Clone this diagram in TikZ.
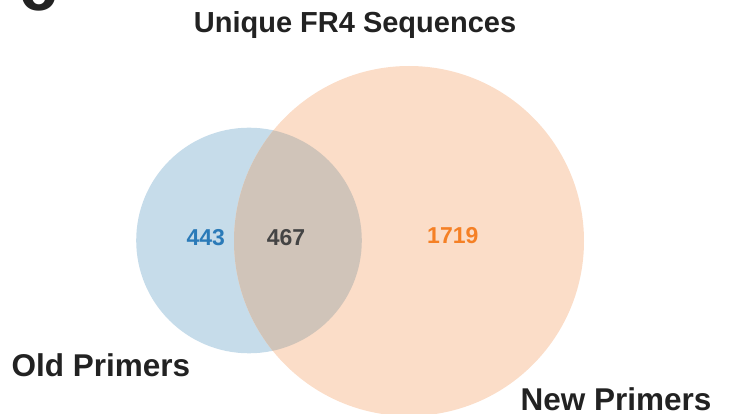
\documentclass[tikz,border=0pt]{standalone}
\usepackage{fontspec}
\setmainfont{Liberation Sans}
\definecolor{oldfill}{HTML}{C6DCEA}
\definecolor{newfill}{HTML}{FBDDC8}
\definecolor{bothfill}{HTML}{D0C4B9}
\definecolor{oldtext}{HTML}{2A7AB8}
\definecolor{newtext}{HTML}{F58025}
\definecolor{bothtext}{HTML}{444444}
\definecolor{labeltext}{HTML}{222222}
\tikzset{
  lbl/.style={inner sep=0pt, anchor=base west, text=labeltext,
    font=\bfseries\fontsize{31.5}{36}\selectfont},
  cnt/.style={inner sep=0pt, anchor=base,
    font=\bfseries\fontsize{23}{28}\selectfont}
}
\begin{document}
\begin{tikzpicture}[x=1pt,y=-1pt]
                % canvas
                \useasboundingbox (0,0) rectangle (729,414);
                \clip (0,0) rectangle (729,414);

                % the two sets
                \fill[oldfill] (249,240.5) circle [radius=112.8pt];
                \fill[newfill] (409,241) circle [radius=175pt];
                \begin{scope}
                    \clip (249,240.5) circle [radius=112.8pt];
                    \fill[bothfill] (409,241) circle [radius=175pt];
                \end{scope}

                % panel letter, cut by the top edge
                \node[inner sep=0pt, anchor=base west, text=labeltext,
                    font=\bfseries\fontsize{68}{80}\selectfont] (panel) at (19,11) {c};

                \node[inner sep=0pt, anchor=base, text=labeltext,
                    font=\bfseries\fontsize{29}{35}\selectfont] (title) at (355,33) {Unique FR4 Sequences};

                \node[cnt, text=oldtext] (nOld) at (205.7,246) {443};
                \node[cnt, text=bothtext] (nBoth) at (286,246) {467};
                \node[cnt, text=newtext] (nNew) at (452.8,243.3) {1719};

                \node[lbl] (old) at (11.5,377) {Old Primers};
                \node[lbl] (new) at (520.5,410) {New Primers};
            \end{tikzpicture}
\end{document}
